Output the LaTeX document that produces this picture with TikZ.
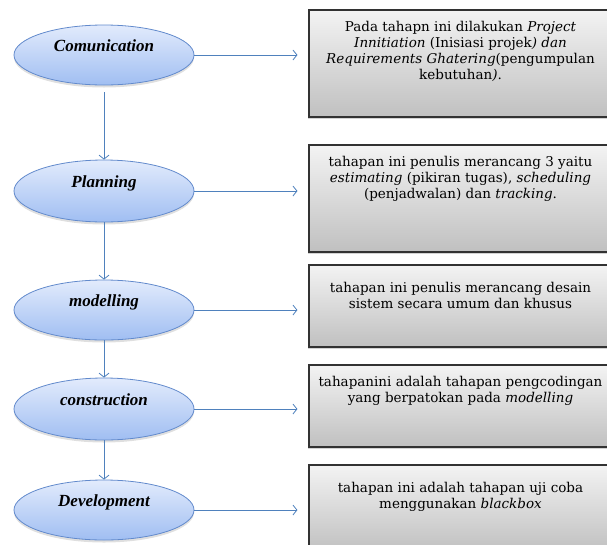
\documentclass[tikz,border=0pt]{standalone}
\usepackage{fontspec}
\setmainfont{DejaVu Serif}
\newfontfamily\stagefont{Liberation Serif}
\usetikzlibrary{shapes.geometric, shadows, arrows.meta}

\definecolor{StageLine}{RGB}{98,138,204}
\definecolor{StageTop}{RGB}{226,235,252}
\definecolor{StageBottom}{RGB}{160,190,242}
\definecolor{FlowLine}{RGB}{79,129,189}
\definecolor{NoteLine}{RGB}{50,50,50}
\definecolor{NoteTop}{RGB}{243,243,243}
\definecolor{NoteBottom}{RGB}{192,192,192}

\tikzset{
	stagebox/.style = {ellipse, draw=StageLine, line width=0.8pt,
		minimum width=180pt, minimum height=60pt,
		top color=StageTop, bottom color=StageBottom,
		drop shadow={shadow xshift=0pt, shadow yshift=-2.5pt, opacity=0.25},
		font=\stagefont\fontsize{17}{19}\selectfont\bfseries\itshape,
		text height=12pt, text depth=20pt},
	notebox/.style = {rectangle, draw=NoteLine, line width=1.1pt,
		minimum width=303pt,
		top color=NoteTop, bottom color=NoteBottom,
		drop shadow={shadow xshift=-1.5pt, shadow yshift=-2pt, opacity=0.35}},
	notetext/.style = {align=center, inner sep=0pt,
		font=\fontsize{13.5}{16}\selectfont},
	flowline/.style = {draw=FlowLine, line width=0.8pt,
		-{Straight Barb[length=4pt, width=10pt]}},
}

\begin{document}
\begin{tikzpicture}[x=1pt, y=-1pt]
		\useasboundingbox (0, 0) rectangle (607, 544);
		\clip (0, 0) rectangle (607, 544);

		\path (104,  55) node (Comm)   [stagebox] {Comunication};
		\path (104, 191) node (Plan)   [stagebox, minimum height=62pt] {Planning};
		\path (104, 310) node (Model)  [stagebox] {modelling};
		\path (104, 409) node (Constr) [stagebox, minimum height=62pt] {construction};
		\path (104, 510) node (Devt)   [stagebox] {Development};

		\path (460.5,  63.5) node (CommNote)   [notebox, minimum height=107pt] {};
		\path (460.5, 198.5) node (PlanNote)   [notebox, minimum height=107pt] {};
		\path (460.5, 306)   node (ModelNote)  [notebox, minimum height=82pt] {};
		\path (460.5, 406)   node (ConstrNote) [notebox, minimum height=82pt] {};
		\path (460.5, 508.5) node (DevtNote)   [notebox, minimum height=87pt] {};

		\path (CommNote.north) node (CommText) [notetext, below=12pt]
			{Pada tahapn ini dilakukan \textit{Project}\\
			 \textit{Innitiation} (Inisiasi projek\textit{) dan}\\
			 \textit{Requirements Ghatering}(pengumpulan\\
			 kebutuhan\textit{)}.};
		\path (PlanNote.north) node (PlanText) [notetext, below=12pt]
			{tahapan ini penulis merancang 3 yaitu\\
			 \textit{estimating} (pikiran tugas), \textit{scheduling}\\
			 (penjadwalan) dan \textit{tracking}.};
		\path (ModelNote.north) node (ModelText) [notetext, below=18pt]
			{tahapan ini penulis merancang desain\\
			 sistem secara umum dan khusus};
		\path (ConstrNote.north) node (ConstrText) [notetext, below=12pt]
			{tahapanini adalah tahapan pengcodingan\\
			 yang berpatokan pada \textit{modelling}};
		\path (DevtNote.north) node (DevtText) [notetext, below=18pt]
			{tahapan ini adalah tahapan uji coba\\
			 menggunakan \textit{blackbox}};

		\draw[flowline, shorten <=7pt] (Comm.south) -- (Plan.north);
		\draw[flowline] (Plan.south)  -- (Model.north);
		\draw[flowline] (Model.south) -- (Constr.north);
		\draw[flowline] (Constr.south) -- (Devt.north);

		\draw[flowline, shorten >=11pt] (Comm.east)   -- (Comm.east -| CommNote.west);
		\draw[flowline, shorten >=11pt] (Plan.east)   -- (Plan.east -| PlanNote.west);
		\draw[flowline, shorten >=11pt] (Model.east)  -- (Model.east -| ModelNote.west);
		\draw[flowline, shorten >=11pt] (Constr.east) -- (Constr.east -| ConstrNote.west);
		\draw[flowline, shorten >=11pt] (Devt.east)   -- (Devt.east -| DevtNote.west);
	\end{tikzpicture}
\end{document}
